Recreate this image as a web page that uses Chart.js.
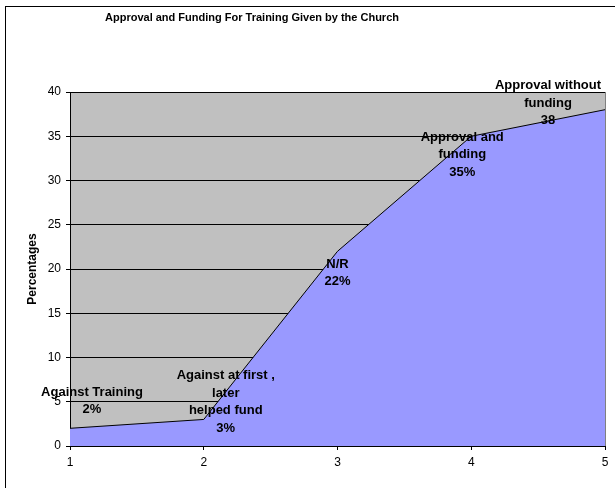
<!DOCTYPE html>
<html>
<head>
<meta charset="utf-8">
<script src="https://cdn.jsdelivr.net/npm/chart.js@4/dist/chart.umd.min.js"></script>
<style>
  html, body { margin: 0; padding: 0; background: #fff; }
  #wrap { position: relative; width: 615px; height: 488px; }
</style>
</head>
<body>
<div id="wrap"><canvas id="chart" width="615" height="488"></canvas></div>
<script>
// chart data
const categories = ['1', '2', '3', '4', '5'];
const percentages = [2, 3, 22, 35, 38];
const pointLabels = [
  ['Against Training', '2%'],
  ['Against at first ,', 'later', 'helped fund', '3%'],
  ['N/R', '22%'],
  ['Approval and', 'funding', '35%'],
  ['Approval without', 'funding', '38']
];
const yTicks = [0, 5, 10, 15, 20, 25, 30, 35, 40];
const chartTitle = 'Approval and Funding For Training Given by the Church';
const yTitle = 'Percentages';

const FONT = 'Arial, "Liberation Sans", sans-serif';

// white frame, grey plot background, title
const framePlugin = {
  id: 'frame',
  beforeDraw(chart) {
    const { ctx, chartArea } = chart;
    ctx.save();
    ctx.fillStyle = '#fff';
    ctx.fillRect(0, 0, chart.width, chart.height);
    ctx.strokeStyle = '#000';
    ctx.lineWidth = 1;
    ctx.strokeRect(5.5, 6.5, 700, 600);
    ctx.fillStyle = '#c0c0c0';
    ctx.fillRect(chartArea.left, chartArea.top, chartArea.right - chartArea.left, chartArea.bottom - chartArea.top);
    ctx.strokeStyle = '#808080';
    ctx.strokeRect(chartArea.left + 0.5, chartArea.top + 0.5, chartArea.right - chartArea.left, chartArea.bottom - chartArea.top);
    ctx.fillStyle = '#000';
    ctx.font = 'bold 11px ' + FONT;
    ctx.textAlign = 'center';
    ctx.textBaseline = 'middle';
    ctx.fillText(chartTitle, 252, 18);
    ctx.restore();
  }
};

// point labels drawn next to each point
const labelOffsets = [[22, -36], [22, -44], [0, 13], [-9, 1], [-57, -24]];
const labelPlugin = {
  id: 'pointText',
  afterDatasetsDraw(chart) {
    const { ctx } = chart;
    const meta = chart.getDatasetMeta(0);
    ctx.save();
    ctx.fillStyle = '#000';
    ctx.font = 'bold 13px ' + FONT;
    ctx.textAlign = 'center';
    ctx.textBaseline = 'middle';
    meta.data.forEach((pt, i) => {
      const [dx, dy] = labelOffsets[i];
      pointLabels[i].forEach((line, j) => {
        ctx.fillText(line, pt.x + dx, pt.y + dy + j * 17.5);
      });
    });
    ctx.restore();
  }
};

new Chart(document.getElementById('chart'), {
  type: 'line',
  data: {
    labels: categories,
    datasets: [{
      data: percentages,
      fill: 'origin',
      backgroundColor: '#9999ff',
      borderColor: '#000',
      borderWidth: 1,
      pointRadius: 0,
      tension: 0
    }]
  },
  options: {
    responsive: false,
    animation: false,
    layout: { padding: { left: 0, top: 92, right: 10, bottom: 0 } },
    plugins: {
      legend: { display: false },
      tooltip: { enabled: false }
    },
    scales: {
      x: {
        offset: false,
        afterFit(scale) { scale.height = 42; },
        grid: { drawOnChartArea: false, drawTicks: true, tickLength: 4, color: '#000' },
        border: { color: '#000', width: 1 },
        ticks: { color: '#000', font: { family: FONT, size: 12 }, padding: 5, maxRotation: 0 }
      },
      y: {
        min: 0,
        max: 40,
        afterFit(scale) { scale.width = 70; },
        afterBuildTicks(scale) { scale.ticks = yTicks.map(v => ({ value: v })); },
        grid: { color: '#000', lineWidth: 1, tickLength: 4 },
        border: { color: '#000', width: 1 },
        ticks: { color: '#000', font: { family: FONT, size: 12 }, padding: 5 },
        title: {
          display: true,
          text: yTitle,
          color: '#000',
          font: { family: FONT, size: 12, weight: 'bold' },
          padding: { top: 25, bottom: 0 }
        }
      }
    }
  },
  plugins: [framePlugin, labelPlugin]
});
</script>
</body>
</html>
